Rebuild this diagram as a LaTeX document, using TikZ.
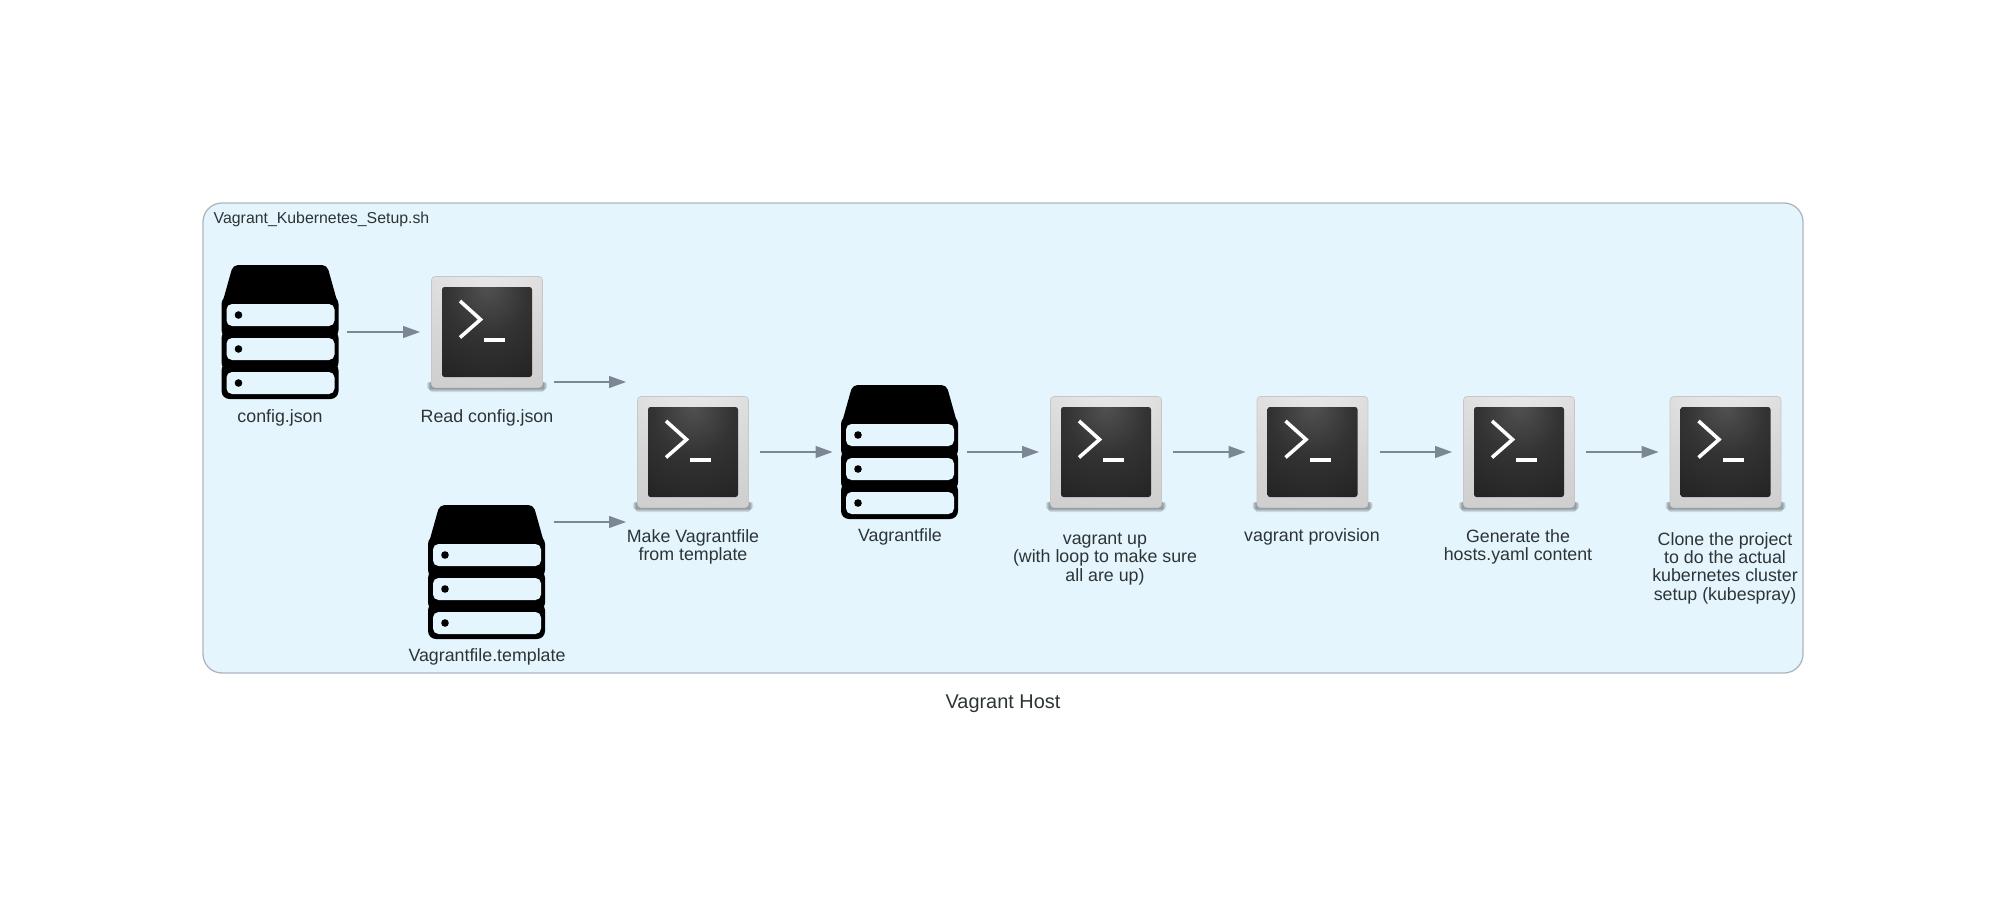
\documentclass[tikz,border=0pt]{standalone}
\usepackage{fontspec}
\setmainfont{Liberation Sans}
\usetikzlibrary{arrows.meta}

\definecolor{clusterfill}{HTML}{E5F5FD}
\definecolor{clusterline}{HTML}{AEB6BE}
\definecolor{edgecolor}{HTML}{7B8894}
\definecolor{textcolor}{HTML}{2D3436}

\pgfdeclareradialshading{termglass}{\pgfpoint{0bp}{26bp}}{%
  color(0bp)=(black!68!white); color(22bp)=(black!80!white);
  color(50bp)=(black!87!white); color(100bp)=(black!90!white)}
\pgfdeclareradialshading{termframe}{\pgfpoint{0bp}{50bp}}{%
  color(0bp)=(black!5!white); color(40bp)=(black!16!white);
  color(85bp)=(black!24!white); color(120bp)=(black!31!white)}

\tikzset{
  iconbox/.style = {minimum size = 134pt, inner sep = 0pt, outer sep = 0pt},
  caption/.style = {align = center, inner sep = 0pt, text = textcolor,
                    font = \fontsize{17.8}{18.3}\selectfont},
  flow/.style = {draw = edgecolor, line width = 1.3pt,
                 -{Triangle[length = 17pt, width = 12pt]}},
  terminal/.pic = {
    \foreach \grow in {1, ..., 4} {
      \fill[black, opacity = 0.1, rounded corners = 2pt]
        (-56 - \grow, 50) rectangle (56 + \grow, 61 - \grow);
    }
    \shade[shading = termframe, draw = black!22!white, line width = 0.6pt, rounded corners = 3.5pt]
      (-55.5, -55.5) rectangle (55.5, 55.5);
    \shade[shading = termglass, rounded corners = 2.5pt]
      (-45, -45) rectangle (45, 45);
    \draw[white, line width = 3.6pt, line join = miter]
      (-27, -31) -- (-6.5, -12.5) -- (-27, 5.5);
    \fill[white] (-3, 5.7) rectangle (18, 9.7);
  },
  database/.pic = {
    \fill[black, rounded corners = 5pt]
      (-47, -67) -- (47, -67) -- (58.5, -26) -- (-58.5, -26) -- cycle;
    \fill[black, rounded corners = 8pt] (-58.5, -36) rectangle (58.5, 6);
    \fill[black, rounded corners = 8pt] (-58.5, -2) rectangle (58.5, 38.5);
    \fill[black, rounded corners = 8pt] (-58.5, 30.5) rectangle (58.5, 67);
    \foreach \slot in {-17, 17, 51} {
      \fill[clusterfill, rounded corners = 5.5pt]
        (-53.5, \slot - 11) rectangle (54.5, \slot + 11);
      \fill[black] (-41.5, \slot) circle (3.8pt);
    }
  }
}

\begin{document}
\begin{tikzpicture}[x = 1pt, y = -1pt]
  \useasboundingbox (0, 0) rectangle (2006, 908);

  \node[draw = clusterline, fill = clusterfill, line width = 1.3pt, rounded corners = 19pt,
        minimum width = 1600pt, minimum height = 470pt, inner sep = 0pt] (setup) at (1003, 438) {};
  \node[inner sep = 0pt, text = textcolor, anchor = west, font = \fontsize{15.85}{18}\selectfont]
    (setuplabel) at (213.5, 219) {Vagrant\_Kubernetes\_Setup.sh};
  \node[inner sep = 0pt, text = textcolor, font = \fontsize{19.9}{22}\selectfont]
    (hostlabel) at (1003, 703.5) {Vagrant Host};

  \node[iconbox] (config) at (280, 332) {};
  \node[iconbox] (read) at (487, 332) {};
  \node[iconbox] (template) at (486.5, 572) {};
  \node[iconbox] (make) at (693, 452) {};
  \node[iconbox] (vagrantfile) at (899.5, 452) {};
  \node[iconbox] (up) at (1106, 452) {};
  \node[iconbox] (provision) at (1312.5, 452) {};
  \node[iconbox] (generate) at (1519, 452) {};
  \node[iconbox] (clone) at (1725.5, 452) {};

  \pic at (config) {database};
  \pic at (read) {terminal};
  \pic at (template) {database};
  \pic at (make) {terminal};
  \pic at (vagrantfile) {database};
  \pic at (up) {terminal};
  \pic at (provision) {terminal};
  \pic at (generate) {terminal};
  \pic at (clone) {terminal};

  \node[caption] (configlabel) at (280, 418) {config.json};
  \node[caption] (readlabel) at (487, 418) {Read config.json};
  \node[caption] (templatelabel) at (487, 657) {Vagrantfile.template};
  \node[caption] (makelabel) at (693, 547) {Make Vagrantfile\\from template};
  \node[caption] (vagrantfilelabel) at (900, 537) {Vagrantfile};
  \node[caption] (uplabel) at (1105, 559) {vagrant up\\(with loop to make sure\\all are up)};
  \node[caption] (provisionlabel) at (1312, 537) {vagrant provision};
  \node[caption] (generatelabel) at (1518, 547) {Generate the\\hosts.yaml content};
  \node[caption] (clonelabel) at (1725, 568) {Clone the project\\to do the actual\\kubernetes cluster\\setup (kubespray)};

  \draw[flow] (config) -- (read);
  \draw[flow] ([yshift = -50pt]read.east) -- ([yshift = 70pt]make.west);
  \draw[flow] ([yshift = 50pt]template.east) -- ([yshift = -70pt]make.west);
  \draw[flow] (make) -- (vagrantfile);
  \draw[flow] (vagrantfile) -- (up);
  \draw[flow] (up) -- (provision);
  \draw[flow] (provision) -- (generate);
  \draw[flow] (generate) -- (clone);
\end{tikzpicture}
\end{document}
